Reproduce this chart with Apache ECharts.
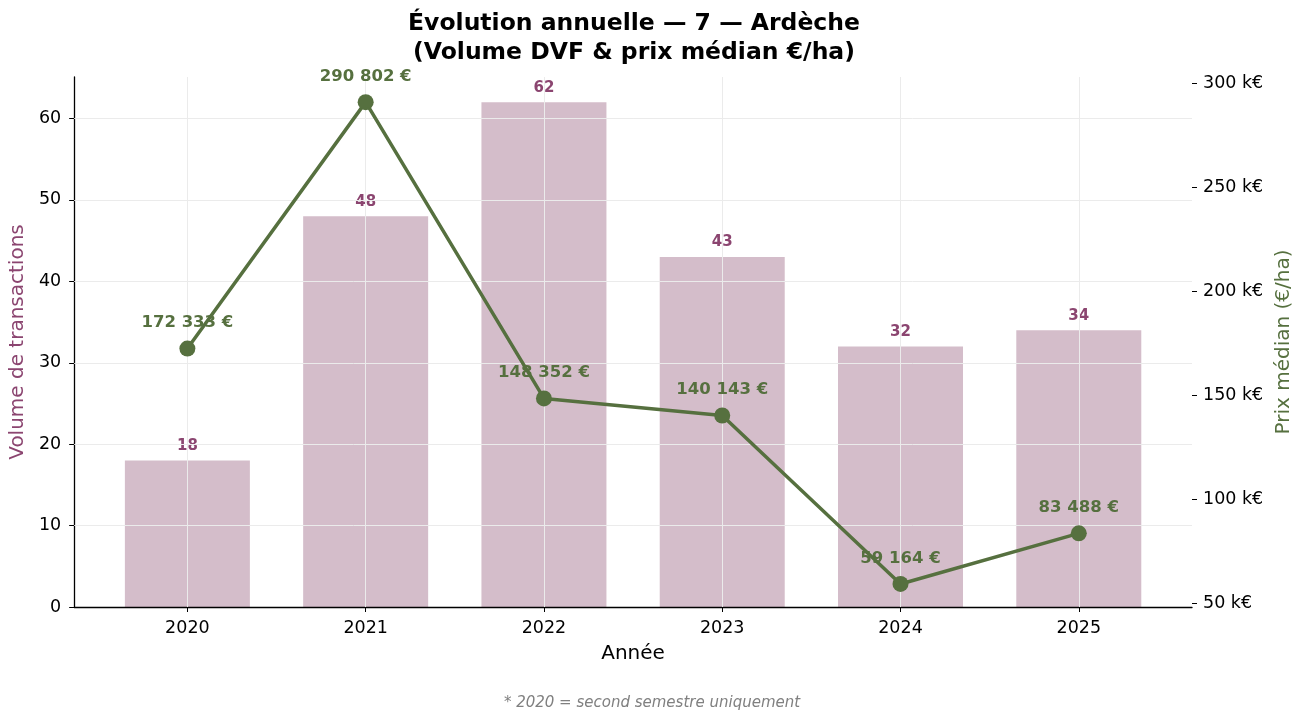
<!DOCTYPE html>
<html>
<head>
<meta charset="utf-8">
<script src="https://cdn.jsdelivr.net/npm/echarts@6/dist/echarts.min.js"></script>
<style>
  html, body { margin: 0; padding: 0; background: #fff; }
  #chart { width: 1304px; height: 719px; }
</style>
</head>
<body>
<div id="chart"></div>
<script>
// données
const years = ['2020', '2021', '2022', '2023', '2024', '2025']
const volumes = [18, 48, 62, 43, 32, 34]
const prixMedian = [172333, 290802, 148352, 140143, 59164, 83488]
const leftTicks = [0, 10, 20, 30, 40, 50, 60]
const rightTicks = [50000, 100000, 150000, 200000, 250000, 300000]
const xTicks = [0, 1, 2, 3, 4, 5]

const barColor = '#d4bdca'
const purple = '#8b4570'
const green = '#56703f'
const gridColor = '#ebebeb'

function fmtEuro (v) {
  return String(Math.round(v)).replace(/\B(?=(\d{3})+(?!\d))/g, ' ') + ' €'
}

const chart = echarts.init(document.getElementById('chart'))

const option = {
  animation: false,
  textStyle: { fontFamily: 'DejaVu Sans' },
  title: [
    {
      text: 'Évolution annuelle — 7 — Ardèche\n(Volume DVF & prix médian €/ha)',
      left: 629,
      top: 4,
      textAlign: 'center',
      textStyle: { fontSize: 23.5, fontWeight: 'bold', color: '#000', lineHeight: 29 }
    },
    {
      text: '* 2020 = second semestre uniquement',
      left: 647,
      top: 691,
      textAlign: 'center',
      textStyle: { fontSize: 15, fontStyle: 'italic', fontWeight: 'normal', color: '#808080' }
    }
  ],
  grid: { left: 73, right: 112, top: 77, bottom: 112 },
  xAxis: {
    type: 'value',
    min: -0.635,
    max: 5.635,
    z: 3,
    name: 'Année',
    nameLocation: 'middle',
    nameGap: 37,
    nameTextStyle: { fontSize: 20, color: '#000' },
    axisLine: { show: true, onZero: false, lineStyle: { color: '#000', width: 1.3 } },
    axisTick: { show: true, customValues: xTicks, length: 5, lineStyle: { color: '#000' } },
    axisLabel: {
      customValues: xTicks,
      fontSize: 17.5,
      color: '#000',
      margin: 12,
      formatter: v => years[Math.round(v)]
    },
    splitLine: { show: false }
  },
  yAxis: [
    {
      type: 'value',
      min: 0,
      max: 65.1,
      z: 3,
      name: 'Volume de transactions',
      nameLocation: 'middle',
      nameGap: 43,
      nameTextStyle: { fontSize: 20, color: purple },
      axisLine: { show: true, onZero: false, lineStyle: { color: '#000', width: 1.3 } },
      axisTick: { show: true, customValues: leftTicks, length: 5, lineStyle: { color: '#000' } },
      axisLabel: { customValues: leftTicks, fontSize: 17.5, color: '#000', margin: 13 },
      splitLine: { show: false }
    },
    {
      type: 'value',
      min: 48080,
      max: 302890,
      position: 'right',
      name: 'Prix médian (€/ha)',
      nameLocation: 'middle',
      nameGap: 81,
      nameRotate: 90,
      nameTextStyle: { fontSize: 20, color: green },
      axisLine: { show: false, onZero: false },
      axisTick: { show: true, customValues: rightTicks, length: 5, lineStyle: { color: '#000' } },
      axisLabel: {
        customValues: rightTicks,
        fontSize: 17.5,
        color: '#000',
        margin: 11,
        formatter: v => Math.round(v / 1000) + ' k€'
      },
      splitLine: { show: false }
    }
  ],
  series: [
    {
      type: 'bar',
      yAxisIndex: 0,
      barWidth: 125,
      z: 1,
      data: volumes.map((v, i) => [i, v]),
      itemStyle: { color: barColor },
      label: {
        show: true,
        position: 'top',
        distance: 7,
        color: purple,
        fontWeight: 'bold',
        fontSize: 15,
        formatter: p => p.value[1]
      }
    },
    {
      // grille (verticale + horizontale) au-dessus des barres
      type: 'line',
      yAxisIndex: 0,
      data: [],
      z: 2,
      silent: true,
      markLine: {
        silent: true,
        symbol: 'none',
        label: { show: false },
        lineStyle: { color: gridColor, width: 1, type: 'solid' },
        data: xTicks.map(x => ({ xAxis: x })).concat(leftTicks.slice(1).map(y => ({ yAxis: y })))
      }
    },
    {
      type: 'line',
      yAxisIndex: 1,
      z: 5,
      data: prixMedian.map((v, i) => [i, v]),
      symbol: 'circle',
      symbolSize: 16,
      lineStyle: { color: green, width: 3.5 },
      itemStyle: { color: green },
      label: {
        show: true,
        position: 'top',
        distance: 9,
        color: green,
        fontWeight: 'bold',
        fontSize: 16.5,
        formatter: p => fmtEuro(p.value[1])
      }
    }
  ]
}

chart.setOption(option)
</script>
</body>
</html>
